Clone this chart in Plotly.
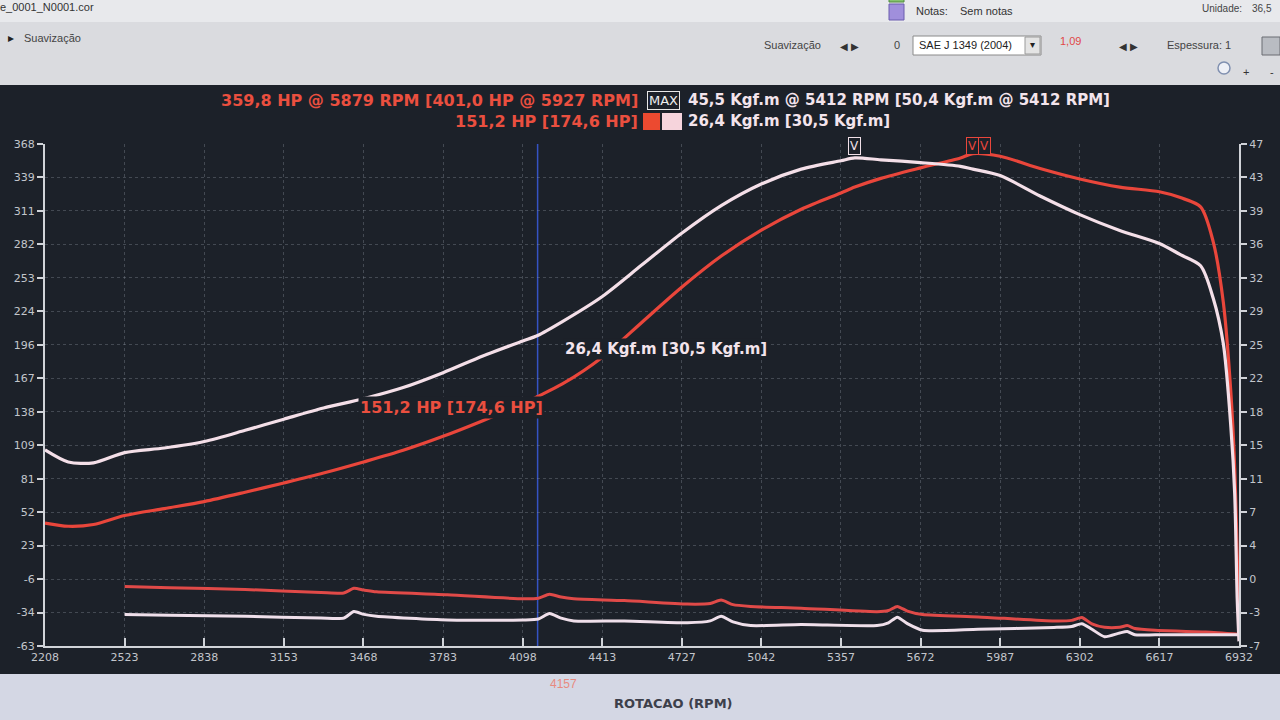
import numpy as np
import plotly.graph_objects as go

# ---------------- data ----------------
rpm = [2208, 2300, 2400, 2523, 2680, 2838, 3000, 3153, 3310, 3468, 3625, 3783, 3940, 4098,
       4157, 4255, 4413, 4570, 4727, 4885, 5042, 5200, 5357, 5412, 5515, 5672, 5830, 5879,
       5987, 6145, 6302, 6460, 6617, 6700, 6780, 6830, 6870, 6900, 6915, 6925, 6932]
power_hp = [42.6, 39.8, 41.3, 49, 55, 61, 69, 77, 85.5, 95, 105, 117, 130.4, 145,
            151.2, 162, 185, 215, 245, 272, 294, 312, 326, 331, 338.5, 347.5, 356, 359.8,
            357.5, 347, 338, 331, 327, 322, 314, 284, 232, 154, 90, 15, -45]
torque_kgfm = [14.1, 12.8, 12.7, 13.8, 14.3, 15.0, 16.2, 17.4, 18.6, 19.6, 20.8, 22.4, 24.2, 25.8,
               26.4, 27.9, 30.6, 34.0, 37.4, 40.4, 42.7, 44.3, 45.2, 45.5, 45.3, 45.0, 44.6, 44.3,
               43.6, 41.4, 39.4, 37.7, 36.3, 35.1, 33.9, 30.4, 25.5, 16.5, 9.4, -2.0, -6.5]

loss_rpm = [2523, 2700, 3000, 3300, 3390, 3430, 3470, 3520, 3800, 4100, 4160, 4204, 4250, 4300,
            4500, 4750, 4840, 4883, 4930, 5000, 5200, 5500, 5545, 5580, 5620, 5680, 5900, 6200,
            6270, 6310, 6350, 6400, 6460, 6490, 6520, 6600, 6800, 6932]
loss_hp = [-12, -13, -14.5, -17, -17.5, -13.5, -15, -16.5, -19, -22.5, -22, -18.5, -21, -22.5,
           -24, -27, -26.5, -23.5, -27.5, -29, -30.5, -33.5, -32.5, -29, -33, -36, -38, -41.5,
           -41, -38.5, -44, -47, -47, -45.5, -48, -49.5, -51, -53]
loss_kgfm = [-3.6, -3.7, -3.8, -4.0, -4.0, -3.3, -3.6, -3.8, -4.2, -4.2, -4.1, -3.5, -4.0, -4.3,
             -4.3, -4.5, -4.3, -3.8, -4.4, -4.8, -4.7, -4.8, -4.5, -3.9, -4.6, -5.3, -5.2, -5.0,
             -4.9, -4.6, -5.2, -6.0, -5.6, -5.45, -5.8, -5.8, -5.8, -5.8]

x_ticks = [2208, 2523, 2838, 3153, 3468, 3783, 4098, 4413, 4727, 5042, 5357, 5672, 5987, 6302, 6617, 6932]
left_tick_text = ["-63", "-34", "-6", "23", "52", "81", "109", "138", "167", "196", "224", "253",
                  "282", "311", "339", "368"]
right_tick_text = ["-7", "-3", "0", "4", "7", "11", "15", "18", "22", "25", "29", "32", "36", "39",
                   "43", "47"]
cursor_rpm = 4157
peak_torque_rpm = 5412
peak_hp_rpm = 5879
peak_hp_corr_rpm = 5927

# ---------------- layout geometry ----------------
W, H = 1280, 720
L, R, T, B = 45, 1239, 144, 646


def px(x):
    return (x - L) / (R - L)


def py(y):
    return (B - y) / (B - T)


RED = "#e9463b"
PINK = "#f4dfe8"
DARK = "#1c2129"
TICK = "#c3c6cc"
HDR_FONT = "DejaVu Sans"

fig = go.Figure()

fig.add_trace(go.Scatter(x=loss_rpm, y=loss_hp, mode="lines", yaxis="y",
                         line=dict(color="#e04a48", width=3, shape="spline", smoothing=0.6),
                         hoverinfo="skip", showlegend=False))
fig.add_trace(go.Scatter(x=loss_rpm, y=loss_kgfm, mode="lines", yaxis="y2",
                         line=dict(color="#efdfea", width=3, shape="spline", smoothing=0.6),
                         hoverinfo="skip", showlegend=False))
fig.add_trace(go.Scatter(x=rpm, y=power_hp, mode="lines", yaxis="y",
                         line=dict(color=RED, width=3.2, shape="spline", smoothing=0.8),
                         name="HP", showlegend=False))
fig.add_trace(go.Scatter(x=rpm, y=torque_kgfm, mode="lines", yaxis="y2",
                         line=dict(color=PINK, width=3.2, shape="spline", smoothing=0.8),
                         name="Kgf.m", showlegend=False))

shapes = []
# top toolbar bands
shapes.append(dict(type="rect", xref="paper", yref="paper", x0=px(0), x1=px(W), y0=py(0), y1=py(85),
                   fillcolor="#dadbdf", line=dict(width=0), layer="below"))
shapes.append(dict(type="rect", xref="paper", yref="paper", x0=px(0), x1=px(W), y0=py(0), y1=py(22),
                   fillcolor="#e8e9ec", line=dict(width=0), layer="below"))
# dark chart area
shapes.append(dict(type="rect", xref="paper", yref="paper", x0=px(0), x1=px(W), y0=py(85), y1=py(674),
                   fillcolor=DARK, line=dict(width=0), layer="below"))
# bottom light band
shapes.append(dict(type="rect", xref="paper", yref="paper", x0=px(0), x1=px(W), y0=py(674), y1=py(H),
                   fillcolor="#d4d7e4", line=dict(width=0), layer="below"))
# cursor line
shapes.append(dict(type="line", xref="x", yref="paper", x0=cursor_rpm, x1=cursor_rpm, y0=0, y1=1,
                   line=dict(color="#3553c4", width=1.5), layer="below"))
# legend colour squares in header
shapes.append(dict(type="rect", xref="paper", yref="paper", x0=px(643), x1=px(660), y0=py(113), y1=py(130),
                   fillcolor="#ec4a30", line=dict(width=0)))
shapes.append(dict(type="rect", xref="paper", yref="paper", x0=px(662), x1=px(682), y0=py(113), y1=py(130),
                   fillcolor="#f6d4dc", line=dict(width=0)))
# toolbar widgets
shapes.append(dict(type="rect", xref="paper", yref="paper", x0=px(889), x1=px(904), y0=py(4), y1=py(20),
                   fillcolor="#a08fdc", line=dict(color="#6b5cae", width=1)))
shapes.append(dict(type="rect", xref="paper", yref="paper", x0=px(889), x1=px(904), y0=py(-6), y1=py(2),
                   fillcolor="#86c46e", line=dict(color="#4f8a3e", width=1)))
shapes.append(dict(type="rect", xref="paper", yref="paper", x0=px(913), x1=px(1041), y0=py(36), y1=py(55),
                   fillcolor="#ffffff", line=dict(color="#8a8a8a", width=1)))
shapes.append(dict(type="rect", xref="paper", yref="paper", x0=px(1025), x1=px(1040), y0=py(37), y1=py(54),
                   fillcolor="#e4e4e4", line=dict(color="#9a9a9a", width=1)))
shapes.append(dict(type="rect", xref="paper", yref="paper", x0=px(1262), x1=px(1280), y0=py(37), y1=py(55),
                   fillcolor="#b9bcc2", line=dict(color="#6a6d73", width=1)))
shapes.append(dict(type="circle", xref="paper", yref="paper", x0=px(1218), x1=px(1230), y0=py(62), y1=py(74),
                   fillcolor="#eef0f6", line=dict(color="#8090b0", width=1.5)))

ann = []


def txt(x, y, s, size=12, color="#444", anchor="left", family="Liberation Sans", bold=False, **kw):
    if bold:
        s = "<b>" + s + "</b>"
    d = dict(xref="paper", yref="paper", x=px(x), y=py(y), text=s, showarrow=False,
             xanchor=anchor, yanchor="middle", font=dict(size=size, color=color, family=family))
    d.update(kw)
    ann.append(d)


# toolbar text
txt(-2, 7, "e_0001_N0001.cor", 11, "#333")
txt(6, 38, "▸", 12, "#222")
txt(22, 38, "Suavização", 11, "#444")
txt(914, 11, "Notas:", 11, "#333")
txt(958, 11, "Sem notas", 11, "#333")
txt(1200, 8, "Unidade:", 10, "#444")
txt(1250, 8, "36,5", 10, "#444")
txt(762, 45, "Suavização", 11, "#444")
txt(838, 47, "◀ ▶", 10, "#333")
txt(892, 45, "0", 11, "#444")
txt(917, 45, "SAE J 1349 (2004)", 11, "#222")
txt(1032, 45, "▾", 10, "#222", anchor="center")
txt(1058, 41, "1,09", 11, "#e04848")
txt(1117, 47, "◀ ▶", 10, "#333")
txt(1165, 45, "Espessura: 1", 11, "#444")
txt(1246, 72, "+", 11, "#333", anchor="center")
txt(1272, 72, "-", 11, "#333", anchor="center")

# header
txt(640, 100, "359,8 HP @ 5879 RPM [401,0 HP @ 5927 RPM]", 16, "#ea4f3f", anchor="right",
    family=HDR_FONT, bold=True)
txt(663, 100, "MAX", 13, "#eeeeee", anchor="center", family=HDR_FONT,
    bordercolor="#e8e8e8", borderwidth=1, borderpad=1)
txt(686, 100, "45,5 Kgf.m @ 5412 RPM [50,4 Kgf.m @ 5412 RPM]", 15, "#f3e4ec", family=HDR_FONT, bold=True)
txt(640, 121, "151,2 HP [174,6 HP]", 16, "#ea4f3f", anchor="right", family=HDR_FONT, bold=True)
txt(686, 121, "26,4 Kgf.m [30,5 Kgf.m]", 15, "#f3e4ec", family=HDR_FONT, bold=True)

# in-plot cursor labels
txt(563, 349, "26,4 Kgf.m [30,5 Kgf.m]", 15, "#f3e4ec", family=HDR_FONT, bold=True, bgcolor=DARK)
txt(358, 407, "151,2 HP [174,6 HP]", 16, "#ea4f3f", family=HDR_FONT, bold=True, bgcolor=DARK)

# peak markers
for xr, col in [(peak_torque_rpm, "#f0e0e8"), (peak_hp_rpm, "#e9463b"), (peak_hp_corr_rpm, "#e9463b")]:
    ann.append(dict(xref="x", yref="paper", x=xr, y=py(146), text="V", showarrow=False,
                    xanchor="center", yanchor="middle",
                    font=dict(size=12, color=col, family="DejaVu Sans"),
                    bordercolor=col, borderwidth=1, borderpad=1, bgcolor=DARK))

# bottom labels
txt(563, 684, "4157", 12, "#e88a80", anchor="center")
txt(673, 703, "ROTACAO (RPM)", 13, "#3d404b", anchor="center", family="DejaVu Sans", bold=True)

fig.update_layout(
    width=W, height=H, autosize=False,
    margin=dict(l=L, r=W - R, t=T, b=H - B, pad=0),
    paper_bgcolor="#dadbdf", plot_bgcolor=DARK,
    shapes=shapes, annotations=ann, showlegend=False,
    xaxis=dict(range=[x_ticks[0], x_ticks[-1]], tickvals=x_ticks, ticktext=[str(v) for v in x_ticks],
               showline=True, linecolor="#d0d3d8", linewidth=2, ticks="inside", ticklen=8,
               tickcolor="#d0d3d8", tickwidth=1.5,
               tickfont=dict(size=11, color=TICK, family="DejaVu Sans"),
               showgrid=True, gridcolor="rgba(150,160,170,0.32)", griddash="dot", gridwidth=1,
               zeroline=False, fixedrange=True),
    yaxis=dict(range=[-63, 368], tickvals=list(np.linspace(-63, 368, 16)), ticktext=left_tick_text,
               showline=True, linecolor="#d0d3d8", linewidth=2, ticks="outside", ticklen=6,
               tickcolor="#d0d3d8", tickwidth=1.5,
               tickfont=dict(size=11, color=TICK, family="DejaVu Sans"),
               showgrid=True, gridcolor="rgba(150,160,170,0.32)", griddash="dot", gridwidth=1,
               zeroline=False, fixedrange=True),
    yaxis2=dict(range=[-7, 47], tickvals=list(np.linspace(-7, 47, 16)), ticktext=right_tick_text,
                overlaying="y", side="right", anchor="x",
                showline=True, linecolor="#d0d3d8", linewidth=2, ticks="outside", ticklen=6,
                tickcolor="#d0d3d8", tickwidth=1.5,
                tickfont=dict(size=11, color=TICK, family="DejaVu Sans"),
                showgrid=False, zeroline=False, fixedrange=True),
)

fig.write_html("out.html", config={"displayModeBar": False},
               post_script="document.body.style.margin='0';")
